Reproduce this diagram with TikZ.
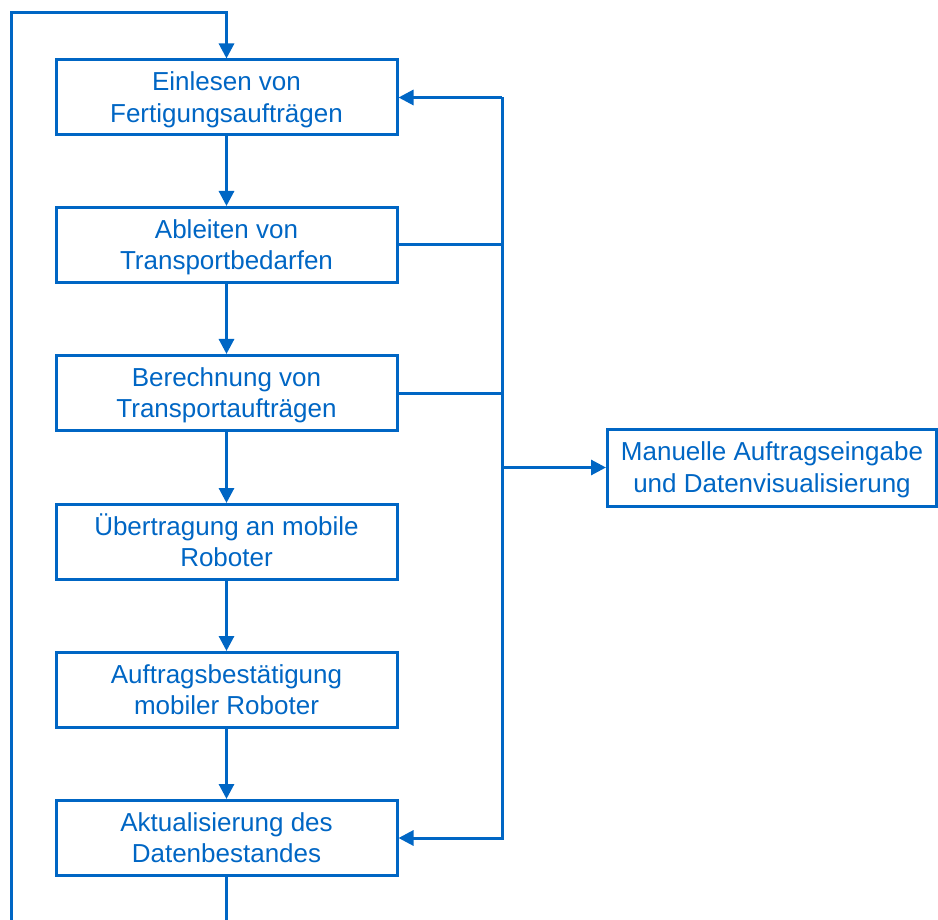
\documentclass[tikz,border=0pt]{standalone}
\usepackage{fontspec}
\setmainfont{Liberation Sans}
\usetikzlibrary{arrows.meta}
\definecolor{flowblue}{RGB}{0,102,196}
% two-line box label with fixed top height and bottom depth
\newcommand\twolines[2]{\rule{0pt}{26pt}#1\\#2\rule[-7.6pt]{0pt}{7.6pt}}
\begin{document}
\begin{tikzpicture}[x=1pt,y=-1pt,
  stepbox/.style={draw=flowblue, line width=3pt, minimum width=341pt,
    minimum height=75pt, inner sep=0pt, align=center, text=flowblue,
    font=\fontsize{26}{31.5}\selectfont},
  link/.style={draw=flowblue, line width=3pt},
  arr/.style={link, -{Triangle[length=15pt,width=15pt]}}]
\useasboundingbox (0,0) rectangle (938,920);

% process steps
\node[stepbox] (read)   at (226.5,97.5) {\twolines{Einlesen von}{Fertigungsaufträgen}};
\node[stepbox] (derive) at (226.5,245)  {\twolines{Ableiten von}{Transportbedarfen}};
\node[stepbox] (calc)   at (226.5,393)  {\twolines{Berechnung von}{Transportaufträgen}};
\node[stepbox] (send)   at (226.5,542)  {\twolines{Übertragung an mobile}{Roboter}};
\node[stepbox] (ack)    at (226.5,690)  {\twolines{Auftragsbestätigung}{mobiler Roboter}};
\node[stepbox] (update) at (226.5,838)  {\twolines{Aktualisierung des}{Datenbestandes}};
\node[stepbox, minimum width=329pt, minimum height=77pt] (manual) at (772,467.5)
  {\twolines{Manuelle Auftragseingabe}{und Datenvisualisierung}};

% main sequence
\draw[arr] (read)   -- (derive);
\draw[arr] (derive) -- (calc);
\draw[arr] (calc)   -- (send);
\draw[arr] (send)   -- (ack);
\draw[arr] (ack)    -- (update);

% feedback loop on the left
\coordinate (loopBL) at (11,920);
\coordinate (loopTL) at (11,13);
\draw[link] (update.south) -- (update.south |- loopBL);
\draw[arr] (loopBL) -- (loopTL) -| (read.north);

% data bus on the right
\coordinate (busTop) at (502,97.5);
\coordinate (busBot) at (502,838);
\draw[arr] (busTop) -- (read.east);
\draw[arr] (busTop) -- (busBot) -- (update.east);
\draw[link] (derive.east) -- (derive.east -| busTop);
\draw[link] (calc.east) -- (calc.east -| busTop);
\draw[arr] (manual.west -| busTop) -- (manual.west);
\end{tikzpicture}
\end{document}
